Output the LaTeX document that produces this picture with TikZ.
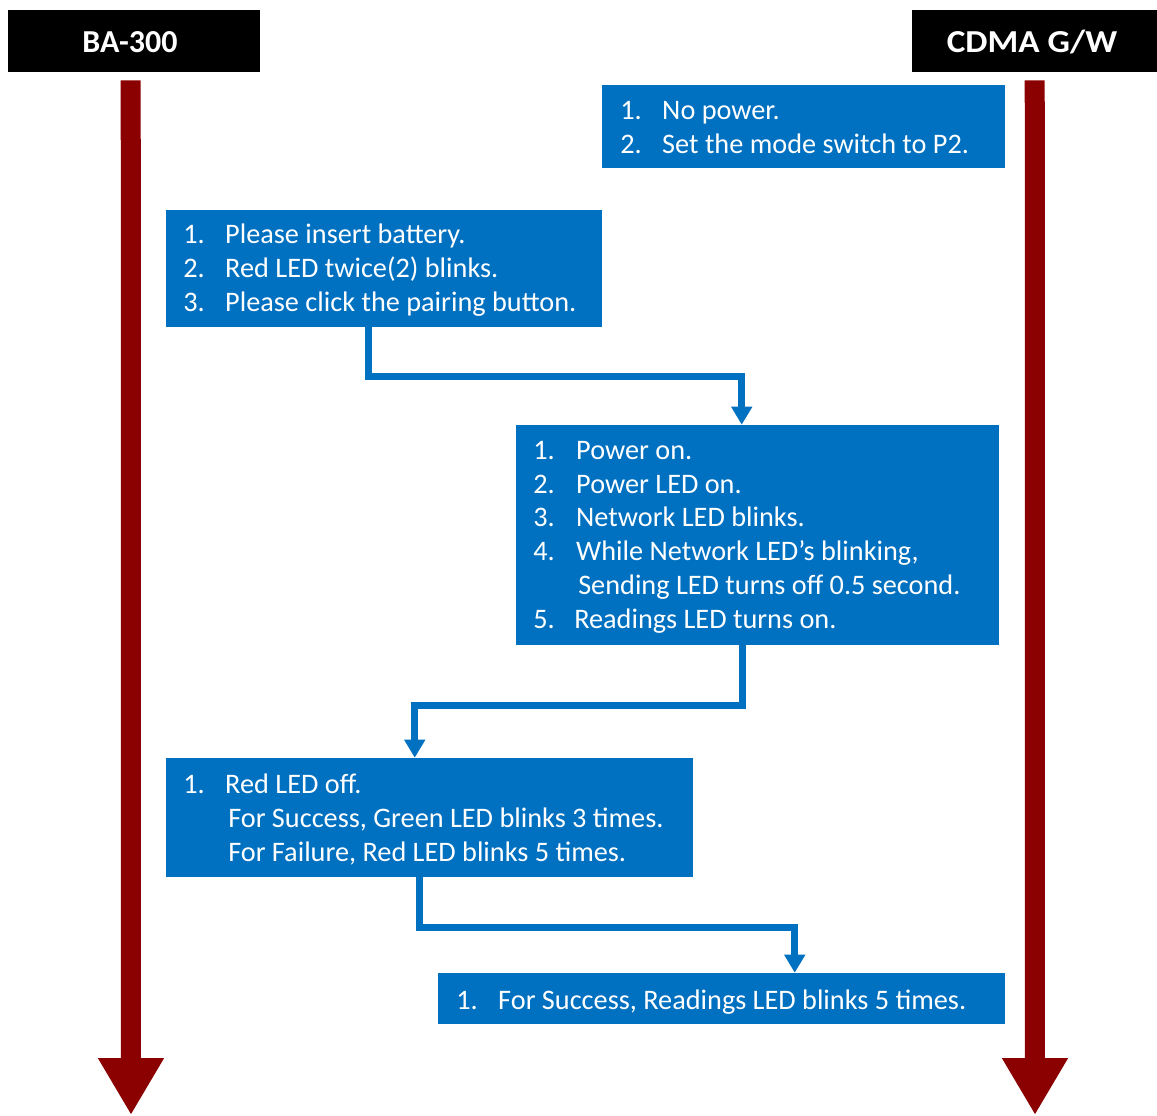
\documentclass[tikz,border=0pt]{standalone}
\usepackage{fontspec}
\setmainfont{Carlito}
\usetikzlibrary{arrows.meta,fit,calc}
\definecolor{boxblue}{RGB}{0,112,192}
\definecolor{lifered}{RGB}{139,0,0}
\begin{document}
\begin{tikzpicture}[x=0.75pt,y=-0.75pt,
  box/.style={fill=boxblue,draw=none,inner sep=0pt},
  hdr/.style={fill=black,draw=none,inner sep=0pt},
  hdrtxt/.style={text=white,font=\fontsize{24pt}{28pt}\selectfont\bfseries,inner sep=0pt},
  txt/.style={text=white,font=\fontsize{21.2pt}{24pt}\selectfont,anchor=base west,inner sep=0pt},
  conn/.style={draw=boxblue,line width=5.25pt,-{Triangle[width=15pt,length=13.5pt]}},
  life/.style={draw=lifered,line width=15pt,-{Triangle[width=46.5pt,length=42.75pt]}}]
\useasboundingbox (0,0) rectangle (1157,1115);
% headers
\node[hdr,fit={(8,10) (260,72)}] (ba) {};
\node[hdr,fit={(912,10) (1157,72)}] (cdma) {};
\node[hdrtxt] (batxt) at (130,42) {BA-300};
\node[hdrtxt] (cdmatxt) at (1032,42) {\scalebox{1.1}[1]{CDMA G/W}};
% lifelines
\coordinate (baend) at (131,1115);
\coordinate (cdmaend) at (1035,1115);
\draw[life] ($(ba.south west)+(123,8)$) -- (baend);
\draw[life] ($(cdma.south west)+(123,8)$) -- (cdmaend);
% boxes
\node[box,fit={(602,85) (1005,168)}] (b1) {};
\node[box,fit={(166,210) (602,327)}] (b2) {};
\node[box,fit={(516,425) (999,645)}] (b3) {};
\node[box,fit={(166,758) (693,877)}] (b4) {};
\node[box,fit={(438,973) (1005,1024)}] (b5) {};
% texts box 1
\node[txt] (t11) at (620,119) {\makebox[31.5pt][l]{1.}No power.};
\node[txt] (t12) at (620,153) {\makebox[31.5pt][l]{2.}Set the mode switch to P2.};
% box 2
\node[txt] (t21) at (183,243) {\makebox[31.5pt][l]{1.}Please insert battery.};
\node[txt] (t22) at (183,277) {\makebox[31.5pt][l]{2.}Red LED twice(2) blinks.};
\node[txt] (t23) at (183,311) {\makebox[31.5pt][l]{3.}Please click the pairing button.};
% box 3
\node[txt] (t31) at (533,459) {\makebox[32.25pt][l]{1.}Power on.};
\node[txt] (t32) at (533,493) {\makebox[32.25pt][l]{2.}Power LED on.};
\node[txt] (t33) at (533,526) {\makebox[32.25pt][l]{3.}Network LED blinks.};
\node[txt] (t34) at (533,560) {\makebox[32.25pt][l]{4.}While Network LED’s blinking,};
\node[txt] (t35) at (578,594) {Sending LED turns off 0.5 second.};
\node[txt] (t36) at (533,628) {\makebox[30.75pt][l]{5.}Readings LED turns on.};
% box 4
\node[txt] (t41) at (183,793) {\makebox[31.5pt][l]{1.}Red LED off.};
\node[txt] (t42) at (228,827) {For Success, Green LED blinks 3 times.};
\node[txt] (t43) at (228,861) {For Failure, Red LED blinks 5 times.};
% box 5
\node[txt] (t51) at (456,1009) {\makebox[31.5pt][l]{1.}For Success, Readings LED blinks 5 times.};
% connectors
\draw[conn] ($(b2.south west)+(203,0)$) -- ++(0,49) -| ($(b3.north west)+(226,0)$);
\draw[conn] ($(b3.south west)+(227,0)$) -- ++(0,60) -| ($(b4.north west)+(249,0)$);
\draw[conn] ($(b4.south west)+(254,0)$) -- ++(0,50) -| ($(b5.north west)+(357,0)$);
\end{tikzpicture}
\end{document}
